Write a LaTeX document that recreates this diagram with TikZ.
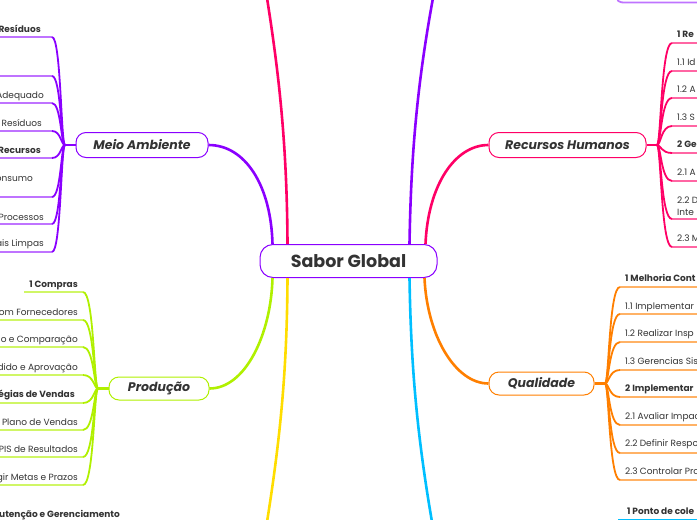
\documentclass[tikz,border=0pt]{standalone}
\usepackage{fontspec}
\setmainfont{Poppins}
\usetikzlibrary{positioning}
\definecolor{txtgray}{HTML}{333333}
\definecolor{mapviolet}{HTML}{8A00FF}
\definecolor{mappink}{HTML}{FF0066}
\definecolor{maplime}{HTML}{B0F000}
\definecolor{mapyellow}{HTML}{FFDD00}
\definecolor{maporange}{HTML}{FF7F00}
\definecolor{mapcyan}{HTML}{00BFFF}

\begin{document}
\begin{tikzpicture}
  [x=1pt, y=-1pt,
  topic/.style={rectangle, rounded corners=10pt, draw, line width=1pt, fill=white, minimum height=25pt, inner sep=2pt, text=txtgray, font=\fontsize{12.5}{15}\selectfont\bfseries\itshape},
  item/.style={inner sep=0pt, text=txtgray, font=\fontsize{9}{12}\selectfont},
  branch/.style={line width=2.6pt},
  twig/.style={line width=1.8pt},
  uline/.style={line width=1.8pt}]
  \useasboundingbox (0,0) rectangle (697,520);
  \clip (0,0) rectangle (697,520);

  \node (sabor) [topic, draw=mapviolet, minimum width=177pt, minimum height=33pt, rounded corners=13pt, font=\fontsize{17.5}{20}\selectfont\bfseries] at (348.5,261) {Sabor Global};

% long branches
\coordinate (up-left) at (267,-2);
\coordinate (up-right) at (433,-2);
\coordinate (down-left) at (267,522);
\coordinate (down-right) at (432,522);
\draw[branch, mappink] ([xshift=28pt]sabor.north west) .. controls (287,150) and (280,80) .. (up-left);
\draw[branch, mapviolet] ([xshift=150pt]sabor.north west) .. controls (411,150) and (418,80) .. (up-right);
\draw[branch, mapyellow] ([xshift=28pt]sabor.south west) .. controls (287,372) and (280,440) .. (down-left);
\draw[branch, mapcyan] ([xshift=150pt]sabor.south west) .. controls (411,372) and (418,440) .. (down-right);

% Meio Ambiente
\node (meio) [topic, draw=mapviolet, minimum width=132pt] at (142,145) {Meio Ambiente};
\draw[branch, mapviolet] ([xshift=13pt]sabor.north west) .. controls (271,185) and (245,145) .. (meio.east);
\coordinate (ma-hub) at (65,145);
\draw[branch, mapviolet] (meio.west) -- (ma-hub);
\foreach \y [count=\i] in {37,76,103,131,158,197,224,252}{
  \coordinate (ma-\i) at (52,\y);
  \draw[uline, mapviolet!55] (ma-\i) -- ++(-60,0);
  \draw[twig, mapviolet] (ma-hub) .. controls (61,145) and (61,\y) .. (ma-\i);
}
\foreach \b/\tx/\txt/\fw [count=\i] in {32.5/41/Resíduos/\bfseries, 98.5/44/Adequado/\mdseries, 126.5/42/Resíduos/\mdseries, 153.5/41/Recursos/\bfseries, 181.5/33/onsumo/\mdseries, 220.5/44/Processos/\mdseries, 246.5/44/ais Limpas/\mdseries}
  \node (ma-t\i) [item, font=\fontsize{9}{12}\selectfont\fw, anchor=base east] at (\tx,\b) {\txt};

% Producao
\node (prod) [topic, draw=maplime, minimum width=100pt, minimum height=23pt] at (159,388.5) {Produção};
\draw[branch, maplime] ([xshift=13pt]sabor.south west) .. controls (271,335) and (245,388.5) .. (prod.east);
\coordinate (pr-hub) at (98,388.5);
\draw[branch, maplime] (prod.west) -- (pr-hub);
\foreach \y/\l [count=\i] in {292/59,320/95,347/95,375/95,403/95,430/95,457/95,485/95}{
  \coordinate (pr-\i) at (83,\y);
  \draw[uline, maplime!60] (pr-\i) -- ++(-\l,0);
  \draw[twig, maplime] (pr-hub) .. controls (94,388.5) and (94,\y) .. (pr-\i);
}
\foreach \b/\tx/\txt/\fw [count=\i] in {287.5/78/1 Compras/\bfseries, 315.5/78/com Fornecedores/\mdseries, 342.5/78/ção e Comparação/\mdseries, 370.5/78/edido e Aprovação/\mdseries, 397.5/75/égias de Vendas/\bfseries, 425.5/78/o Plano de Vendas/\mdseries, 452.5/78/PIS de Resultados/\mdseries, 480.5/78/gir Metas e Prazos/\mdseries}
  \node (pr-t\i) [item, font=\fontsize{9}{12}\selectfont\fw, anchor=base east] at (\tx,\b) {\txt};
\node (yl-t1) [item, font=\fontsize{9}{12}\selectfont\bfseries, anchor=base east] at (120,517.5) {utenção e Gerenciamento};

% Recursos Humanos
\node (rh) [topic, draw=mappink, minimum width=157pt] at (567.5,145) {Recursos Humanos};
\draw[branch, mappink] ([xshift=166pt]sabor.north west) .. controls (428,185) and (455,145) .. (rh.west);
\coordinate (rh-hub) at (657,145);
\draw[branch, mappink] (rh.east) -- (rh-hub);
\foreach \y [count=\i] in {43,71,98,126,153,181,219,247}{
  \coordinate (rh-\i) at (672,\y);
  \draw[uline, mappink!60] (rh-\i) -- ++(40,0);
  \draw[twig, mappink] (rh-hub) .. controls (661,145) and (661,\y) .. (rh-\i);
}
\foreach \b/\txt/\fw [count=\i] in {37.5/1 Re/\bfseries, 65.5/1.1 Id/\mdseries, 92.5/1.2 A/\mdseries, 120.5/1.3 S/\mdseries, 147.5/2 Ge/\bfseries, 175.5/2.1 A/\mdseries, 241.5/2.3 M/\mdseries}
  \node (rh-t\i) [item, font=\fontsize{9}{12}\selectfont\fw, anchor=base west] at (677,\b) {\txt};
\node (rh-t8) [item, align=left, anchor=south west] at (677,216) {2.2 D\\Inte};

% Qualidade
\node (qual) [topic, draw=maporange, minimum width=105pt, minimum height=23pt] at (541.5,383.5) {Qualidade};
\draw[branch, maporange] ([xshift=165pt]sabor.south west) .. controls (427,335) and (455,383.5) .. (qual.west);
\coordinate (ql-hub) at (605,383.5);
\draw[branch, maporange] (qual.east) -- (ql-hub);
\foreach \y [count=\i] in {287,314,342,370,397,425,453,480}{
  \coordinate (ql-\i) at (620,\y);
  \draw[uline, maporange!60] (ql-\i) -- ++(90,0);
  \draw[twig, maporange] (ql-hub) .. controls (609,383.5) and (609,\y) .. (ql-\i);
}
\foreach \b/\txt/\fw [count=\i] in {281.5/1 Melhoria Cont/\bfseries, 309.5/1.1 Implementar/\mdseries, 336.5/1.2 Realizar Insp/\mdseries, 364.5/1.3 Gerencias Sis/\mdseries, 391.5/2 Implementar/\bfseries, 419.5/2.1 Avaliar Impac/\mdseries, 446.5/2.2 Definir Respo/\mdseries, 474.5/2.3 Controlar Pro/\mdseries}
  \node (ql-t\i) [item, font=\fontsize{9}{12}\selectfont\fw, anchor=base west] at (625,\b) {\txt};

% partial nodes at the edges
\coordinate (cy-1) at (618,519.5);
\draw[uline, mapcyan] (cy-1) -- ++(90,0);
\node (cy-t1) [item, font=\fontsize{9}{12}\selectfont\bfseries, anchor=base west] at (627,514.5) {1 Ponto de cole};
\coordinate (tr-hub) at (617,-10);
\coordinate (tr-1) at (627,2.5);
\draw[uline, mapviolet!55] (tr-hub) .. controls (617,2.5) .. (tr-1) -- ++(90,0);
\end{tikzpicture}
\end{document}
